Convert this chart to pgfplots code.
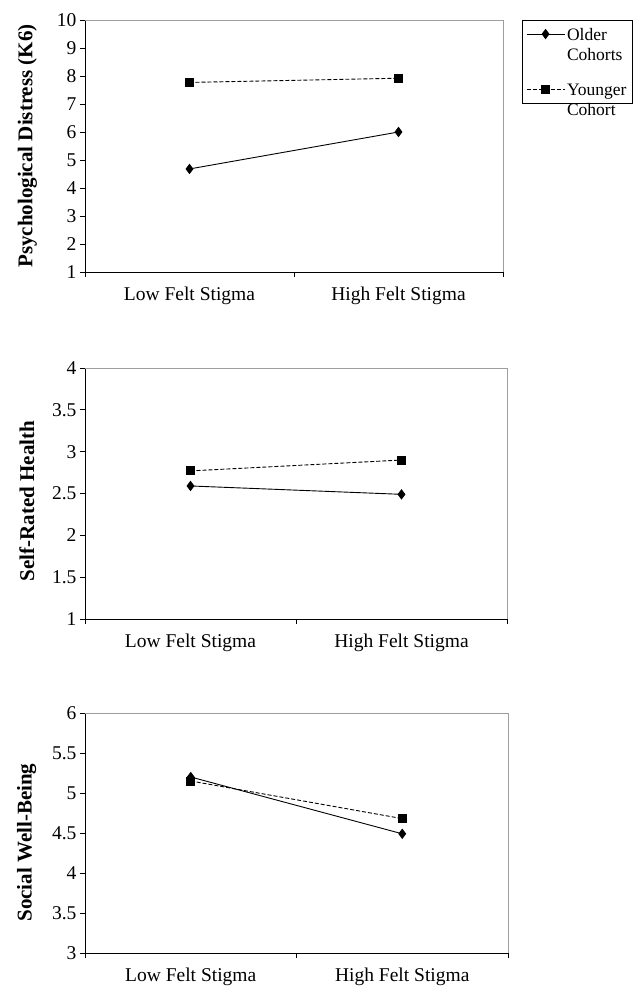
\documentclass[border=0pt]{standalone}
\usepackage{pgfplots}
\pgfplotsset{compat=1.18}
\usepackage{fontspec}
\setmainfont{Liberation Serif}
\definecolor{framegray}{gray}{0.62}
\pgfplotsset{
  panel/.style={
    scale only axis,
    anchor=south west,
    xmin=0, xmax=2,
    axis x line*=bottom, axis y line*=left,
    axis line style={line width=0.9pt, -},
    xtick={0,1,2}, xticklabels={},
    extra x ticks={0.5,1.5},
    extra x tick labels={Low Felt Stigma, High Felt Stigma},
    extra x tick style={major tick length=0pt, tick label style={yshift=-11pt}},
    tick align=outside, major tick length=5pt,
    tick style={black, line width=0.9pt},
    /pgf/number format/assume math mode=true,
    tick label style={font=\fontsize{19.5}{22}\selectfont},
    every axis plot/.append style={line width=0.9pt, black},
    clip=false,
    after end axis/.code={\draw[framegray, line width=0.9pt] (rel axis cs:0,1) -- (rel axis cs:1,1) -- (rel axis cs:1,0);},
  },
  older/.style={solid, mark=diamond*, mark size=4.5pt, mark options={solid, fill=black}},
  younger/.style={dash pattern=on 4pt off 2pt, mark=square*, mark size=4pt, mark options={solid, fill=black}},
}
\begin{document}
\begin{tikzpicture}
\useasboundingbox (0pt,0pt) rectangle (638pt,986pt);
% Panel 1
\begin{axis}[panel, at={(85pt,714pt)}, width=418pt, height=252pt,
  ymin=1, ymax=10, ytick={1,2,...,10},
  ylabel={Psychological Distress (K6)},
  ylabel style={font=\bfseries\fontsize{21}{24}\selectfont, at={(axis description cs:-0.138,0.5)}, anchor=center, rotate=0},
  legend style={at={(rel axis cs:1.045,1)}, anchor=north west, draw=black, line width=0.6pt,
    font=\fontsize{17.5}{20}\selectfont, row sep=36pt, inner sep=4pt},
  legend cell align=left,
  legend image code/.code={\draw[mark repeat=2,mark phase=2,#1] plot coordinates {(0pt,0pt)(19pt,0pt)(38pt,0pt)};},
]
\addplot[older] coordinates {(0.5,4.68) (1.5,6.00)};
\addlegendentry{\begin{tabular}[t]{@{}l@{}}Older\\Cohorts\end{tabular}}
\addplot[younger] coordinates {(0.5,7.77) (1.5,7.92)};
\addlegendentry{\begin{tabular}[t]{@{}l@{}}Younger\\Cohort\end{tabular}}
\end{axis}
% Panel 2
\begin{axis}[panel, at={(85pt,367pt)}, width=422pt, height=251pt,
  ymin=1, ymax=4, ytick={1,1.5,...,4},
  ylabel={Self-Rated Health},
  ylabel style={font=\bfseries\fontsize{21}{24}\selectfont, at={(axis description cs:-0.138,0.47)}, anchor=center, rotate=0},
]
\addplot[older] coordinates {(0.5,2.59) (1.5,2.49)};
\addplot[younger] coordinates {(0.5,2.77) (1.5,2.90)};
\end{axis}
% Panel 3
\begin{axis}[panel, at={(85pt,33pt)}, width=423pt, height=240pt,
  ymin=3, ymax=6, ytick={3,3.5,...,6},
  ylabel={Social Well-Being},
  ylabel style={font=\bfseries\fontsize{21}{24}\selectfont, at={(axis description cs:-0.138,0.46)}, anchor=center, rotate=0},
]
\addplot[older] coordinates {(0.5,5.20) (1.5,4.49)};
\addplot[younger] coordinates {(0.5,5.15) (1.5,4.68)};
\end{axis}
\end{tikzpicture}
\end{document}
